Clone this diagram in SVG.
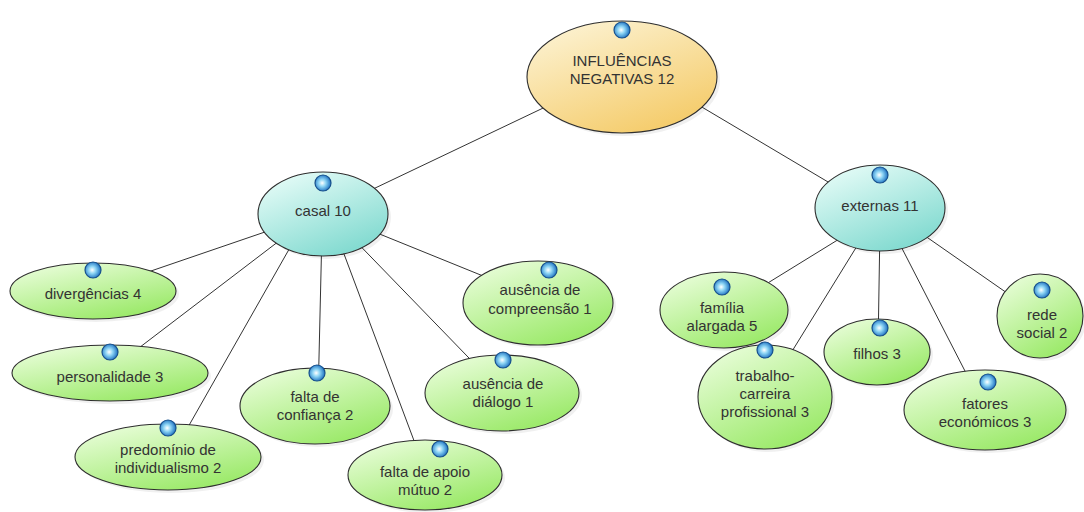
<svg xmlns="http://www.w3.org/2000/svg" width="1084" height="512" viewBox="0 0 1084 512">
<defs>
<linearGradient id="gY" x1="0" y1="0" x2="0.6" y2="1"><stop offset="0" stop-color="#fdf6dc"/><stop offset="1" stop-color="#f5cd6e"/></linearGradient>
<linearGradient id="gG" x1="0" y1="0" x2="0.6" y2="1"><stop offset="0" stop-color="#f0ffe4"/><stop offset="1" stop-color="#9dea6c"/></linearGradient>
<linearGradient id="gT" x1="0" y1="0" x2="0.6" y2="1"><stop offset="0" stop-color="#effffb"/><stop offset="1" stop-color="#84dbd1"/></linearGradient>
<radialGradient id="gB" cx="0.45" cy="0.5" r="0.55"><stop offset="0" stop-color="#ffffff"/><stop offset="0.4" stop-color="#8fd6f5"/><stop offset="1" stop-color="#1a6fc0"/></radialGradient>
<symbol id="ic" viewBox="-9 -9 18 18" overflow="visible"><circle r="8" fill="url(#gB)" stroke="#17508c" stroke-width="1.2"/></symbol>
</defs>
<style>
.n{stroke:#2e2e2e;stroke-width:1.1}
.y{fill:url(#gY)}.g{fill:url(#gG)}.t{fill:url(#gT)}
.sh{fill:#000;opacity:0.06}
text{font-family:"Liberation Sans",Arial,sans-serif;font-size:15px;fill:#333;text-anchor:middle}
.c line{stroke:#333;stroke-width:1}
</style>
<rect width="1084" height="512" fill="#fff"/>
<g id="connectors" class="c">
<line x1="560" y1="100" x2="350" y2="200"/>
<line x1="690" y1="100" x2="850" y2="195"/>
<line x1="300" y1="220" x2="110" y2="285"/>
<line x1="300" y1="225" x2="110" y2="370"/>
<line x1="300" y1="230" x2="175" y2="450"/>
<line x1="322" y1="230" x2="318" y2="400"/>
<line x1="335" y1="230" x2="425" y2="470"/>
<line x1="340" y1="225" x2="500" y2="390"/>
<line x1="345" y1="220" x2="530" y2="295"/>
<line x1="870" y1="220" x2="724" y2="310"/>
<line x1="870" y1="225" x2="765" y2="395"/>
<line x1="880" y1="225" x2="878" y2="350"/>
<line x1="890" y1="225" x2="985" y2="410"/>
<line x1="895" y1="215" x2="1040" y2="316"/>
</g>
<g id="root">
<ellipse cx="625" cy="80" rx="95" ry="56" class="sh"/>
<ellipse cx="622" cy="77" rx="95" ry="56" class="n y"/>
<use href="#ic" x="613" y="21" width="18" height="18"/>
<text x="622" y="66">INFLUÊNCIAS</text>
<text x="622" y="84">NEGATIVAS 12</text>
</g>
<g id="casal">
<ellipse cx="326" cy="217" rx="65" ry="42" class="sh"/>
<ellipse cx="323" cy="214" rx="65" ry="42" class="n t"/>
<use href="#ic" x="314" y="174" width="18" height="18"/>
<text x="323" y="216">casal 10</text>
</g>
<g id="externas">
<ellipse cx="883" cy="211" rx="65" ry="43" class="sh"/>
<ellipse cx="880" cy="208" rx="65" ry="43" class="n t"/>
<use href="#ic" x="871" y="166" width="18" height="18"/>
<text x="880" y="211">externas 11</text>
</g>
<g id="divergencias">
<ellipse cx="96" cy="294" rx="83" ry="28" class="sh"/>
<ellipse cx="93" cy="291" rx="83" ry="28" class="n g"/>
<use href="#ic" x="84" y="261" width="18" height="18"/>
<text x="93" y="299">divergências 4</text>
</g>
<g id="personalidade">
<ellipse cx="113" cy="376" rx="98" ry="28" class="sh"/>
<ellipse cx="110" cy="373" rx="98" ry="28" class="n g"/>
<use href="#ic" x="101" y="343" width="18" height="18"/>
<text x="110" y="382">personalidade 3</text>
</g>
<g id="predominio">
<ellipse cx="171" cy="460" rx="93" ry="33" class="sh"/>
<ellipse cx="168" cy="457" rx="93" ry="33" class="n g"/>
<use href="#ic" x="159" y="419" width="18" height="18"/>
<text x="168" y="455">predomínio de</text>
<text x="168" y="473">individualismo 2</text>
</g>
<g id="confianca">
<ellipse cx="318" cy="409" rx="75" ry="38" class="sh"/>
<ellipse cx="315" cy="406" rx="75" ry="38" class="n g"/>
<use href="#ic" x="308" y="364" width="18" height="18"/>
<text x="315" y="402">falta de</text>
<text x="315" y="420">confiança 2</text>
</g>
<g id="apoio">
<ellipse cx="428" cy="478" rx="77" ry="35" class="sh"/>
<ellipse cx="425" cy="475" rx="77" ry="35" class="n g"/>
<use href="#ic" x="431" y="440" width="18" height="18"/>
<text x="425" y="477">falta de apoio</text>
<text x="425" y="495">mútuo 2</text>
</g>
<g id="dialogo">
<ellipse cx="505" cy="396" rx="77" ry="38" class="sh"/>
<ellipse cx="502" cy="393" rx="77" ry="38" class="n g"/>
<use href="#ic" x="494" y="351" width="18" height="18"/>
<text x="503" y="389">ausência de</text>
<text x="503" y="407">diálogo 1</text>
</g>
<g id="compreensao">
<ellipse cx="541" cy="306" rx="75" ry="42" class="sh"/>
<ellipse cx="538" cy="303" rx="75" ry="42" class="n g"/>
<use href="#ic" x="540" y="261" width="18" height="18"/>
<text x="540" y="295">ausência de</text>
<text x="540" y="314">compreensão 1</text>
</g>
<g id="familia">
<ellipse cx="727" cy="313" rx="64" ry="38" class="sh"/>
<ellipse cx="724" cy="310" rx="64" ry="38" class="n g"/>
<use href="#ic" x="713" y="278" width="18" height="18"/>
<text x="722" y="313">família</text>
<text x="722" y="331">alargada 5</text>
</g>
<g id="trabalho">
<ellipse cx="768" cy="400" rx="67" ry="52" class="sh"/>
<ellipse cx="765" cy="397" rx="67" ry="52" class="n g"/>
<use href="#ic" x="756" y="341" width="18" height="18"/>
<text x="765" y="381">trabalho-</text>
<text x="765" y="399">carreira</text>
<text x="765" y="417">profissional 3</text>
</g>
<g id="filhos">
<ellipse cx="880" cy="355" rx="53" ry="33" class="sh"/>
<ellipse cx="877" cy="352" rx="53" ry="33" class="n g"/>
<use href="#ic" x="871" y="319" width="18" height="18"/>
<text x="877" y="359">filhos 3</text>
</g>
<g id="fatores">
<ellipse cx="988" cy="413" rx="81" ry="40" class="sh"/>
<ellipse cx="985" cy="410" rx="81" ry="40" class="n g"/>
<use href="#ic" x="979" y="373" width="18" height="18"/>
<text x="985" y="409">fatores</text>
<text x="985" y="427">económicos 3</text>
</g>
<g id="rede">
<ellipse cx="1043" cy="319" rx="43" ry="42" class="sh"/>
<ellipse cx="1040" cy="316" rx="43" ry="42" class="n g"/>
<use href="#ic" x="1033" y="281" width="18" height="18"/>
<text x="1042" y="320">rede</text>
<text x="1042" y="338">social 2</text>
</g>
</svg>
